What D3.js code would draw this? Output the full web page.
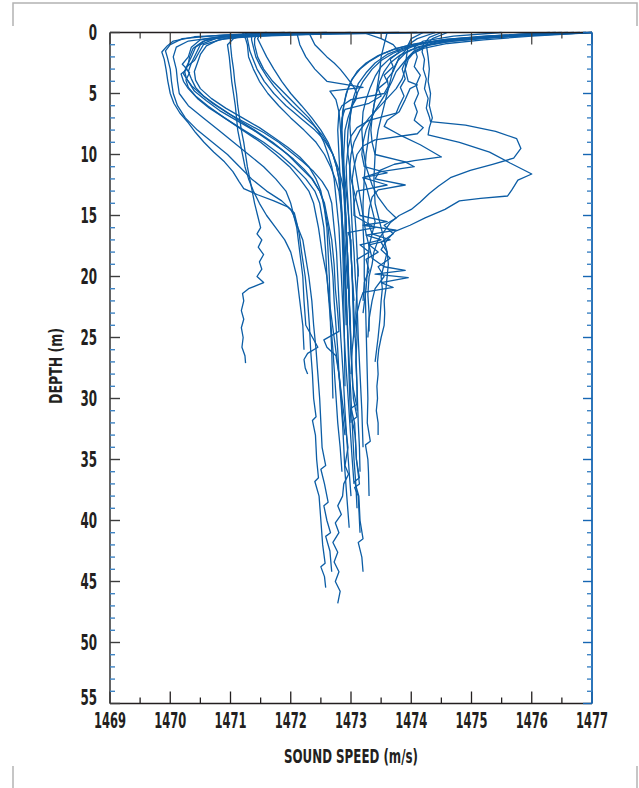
<!DOCTYPE html>
<html>
<head>
<meta charset="utf-8">
<script src="https://cdn.jsdelivr.net/npm/d3@7"></script>
<style>
  html, body { margin: 0; padding: 0; background: #fff; }
  svg { display: block; }
  .lbl { font-family: "Liberation Sans Narrow", "DejaVu Sans Condensed", "Liberation Sans", sans-serif; font-weight: bold; fill: #231f20; }
</style>
</head>
<body>
<svg id="chart" width="639" height="788"></svg>
<script>
// Axis ticks
const speedTicks = [1469, 1470, 1471, 1472, 1473, 1474, 1475, 1476, 1477];
const depthTicks = [0, 5, 10, 15, 20, 25, 30, 35, 40, 45, 50, 55];

// Sound speed casts: [depth (m), sound speed (m/s)]
// Outer cold-surface casts
const castL1 = [[0,1472.6],[0.15,1471.2],[0.35,1470.4],[0.7,1470.05],[1.1,1469.95],[1.6,1469.86],[2.2,1469.9],[3,1469.93],[4,1469.96],[5,1470.0],[5.8,1470.06],[6.6,1470.16],[7.4,1470.3],[8.2,1470.42],[9,1470.56],[9.8,1470.72],[10.6,1470.9],[11.4,1471.04],[12.2,1471.14],[12.8,1471.22],[13.3,1471.45],[13.8,1471.72],[14.3,1471.95],[14.8,1472.06],[15.6,1472.1],[16.5,1472.14],[18,1472.18],[20,1472.24],[22,1472.28],[24,1472.31],[26,1472.33],[28,1472.36],[30,1472.38],[31.5,1472.42],[31.8,1472.36],[33,1472.41],[35,1472.43],[36.5,1472.46],[36.8,1472.4],[38,1472.47],[40,1472.5],[42,1472.53],[43.5,1472.57],[43.8,1472.5],[44.6,1472.56],[45.5,1472.58]];
const castL2 = [[0,1471.9],[0.2,1470.9],[0.5,1470.2],[1,1470.0],[1.5,1469.92],[2,1469.95],[3,1470.0],[4,1470.02],[5,1470.05],[6,1470.12],[7,1470.25],[8,1470.45],[9,1470.7],[10,1470.95],[11,1471.15],[12,1471.35],[13,1471.6],[13.8,1471.85],[14.5,1472.0],[15,1472.05],[16,1472.12],[17,1472.2],[18.5,1472.25],[20,1472.3],[22,1472.35],[24,1472.38],[26,1472.42],[28,1472.45],[30,1472.48],[32,1472.5],[34,1472.52],[35.5,1472.58],[35.8,1472.5],[37,1472.56],[38.5,1472.62],[38.8,1472.55],[40,1472.6],[41,1472.66],[41.3,1472.58],[42.5,1472.65],[44.2,1472.68]];
const castL3 = [[0,1473.4],[0.15,1471.8],[0.35,1470.8],[0.7,1470.3],[1.2,1470.1],[2,1470.05],[3,1470.1],[4,1470.12],[5,1470.15],[6,1470.3],[7,1470.55],[8,1470.8],[9,1471.05],[10,1471.3],[11,1471.55],[12,1471.75],[13,1471.92],[14,1472.0],[15,1472.05],[16,1472.1],[18,1472.15],[20,1472.2],[22,1472.22],[24,1472.25],[25.8,1472.45],[26.3,1472.28],[26.8,1472.22],[27.5,1472.24],[28,1472.28]];

// Main cold-core bundle
const castA1 = [[0,1473.8],[0.12,1472.2],[0.3,1470.9],[0.6,1470.5],[1.2,1470.35],[2,1470.3],[2.6,1470.2],[3,1470.28],[3.4,1470.18],[4,1470.22],[4.6,1470.3],[5.4,1470.45],[6.2,1470.65],[7,1470.9],[8,1471.2],[9,1471.5],[10,1471.75],[11,1471.98],[12,1472.15],[13,1472.3],[14,1472.38],[15,1472.42],[16,1472.46],[18,1472.52],[20,1472.6],[22,1472.64],[25,1472.72],[28,1472.8],[30,1472.85],[32,1472.9],[34,1472.95],[35.5,1472.9],[36.2,1472.96],[37,1472.88],[38,1472.86],[38.8,1472.78],[39.5,1472.84],[40.2,1472.74],[41,1472.8],[41.8,1472.7],[42.6,1472.78],[43.4,1472.72],[44.2,1472.8],[45,1472.74],[45.8,1472.82],[46.8,1472.78]];
const castA2 = [[0,1474.4],[0.12,1472.6],[0.25,1471.4],[0.5,1470.75],[1,1470.5],[1.8,1470.42],[2.5,1470.35],[3.2,1470.3],[3.8,1470.35],[4.5,1470.42],[5.2,1470.55],[6,1470.78],[7,1471.08],[8,1471.4],[9,1471.7],[10,1471.95],[11,1472.15],[12,1472.35],[13,1472.48],[14,1472.55],[16,1472.62],[18,1472.66],[20,1472.7],[22,1472.72],[24,1472.75],[26,1472.78],[28,1472.8],[30,1472.83],[32,1472.86],[34,1472.88],[36,1472.9],[38,1472.93],[40.6,1472.97]];
const castA3 = [[0,1473.0],[0.2,1471.8],[0.5,1470.9],[1,1470.55],[1.6,1470.48],[2.3,1470.4],[2.9,1470.25],[3.3,1470.32],[3.9,1470.26],[4.5,1470.3],[5.2,1470.42],[6,1470.62],[7,1470.9],[8,1471.22],[9,1471.55],[10,1471.82],[11,1472.05],[12,1472.25],[13,1472.4],[14,1472.48],[16,1472.55],[18,1472.58],[20,1472.6],[23,1472.65],[26,1472.7],[29,1472.74],[32,1472.78],[34,1472.82],[36,1472.85]];
const castA4 = [[0,1472.0],[0.3,1471.0],[0.6,1470.6],[1.2,1470.42],[2,1470.35],[2.7,1470.28],[3.4,1470.22],[4,1470.3],[4.8,1470.4],[5.6,1470.6],[6.4,1470.82],[7.2,1471.1],[8,1471.38],[8.8,1471.62],[9.6,1471.85],[10.4,1472.05],[11.2,1472.22],[12,1472.36],[13,1472.48],[14,1472.56],[15.5,1472.62],[17,1472.68],[19,1472.72],[21,1472.74],[23,1472.78],[24.5,1472.8],[25.2,1472.55],[25.8,1472.6],[26.5,1472.75],[28,1472.8],[30,1472.84],[31.5,1472.86],[33,1472.9]];
const castA5 = [[0,1474.1],[0.15,1472.4],[0.35,1471.2],[0.6,1470.8],[1.1,1470.6],[1.8,1470.5],[2.5,1470.45],[3.2,1470.4],[3.9,1470.42],[4.6,1470.5],[5.4,1470.68],[6.2,1470.92],[7,1471.2],[7.8,1471.48],[8.6,1471.72],[9.4,1471.95],[10.2,1472.15],[11,1472.3],[12,1472.42],[13,1472.5],[14.5,1472.56],[16,1472.6],[18,1472.62],[20,1472.64],[22,1472.65],[24,1472.66],[26,1472.68],[28,1472.69],[30,1472.7]];
const castA6 = [[0,1471.6],[0.3,1470.95],[0.7,1470.55],[1.3,1470.38],[2,1470.32],[2.6,1470.3],[3.2,1470.24],[3.8,1470.27],[4.4,1470.36],[5,1470.5],[5.8,1470.7],[6.6,1470.95],[7.4,1471.25],[8.2,1471.55],[9,1471.8],[9.8,1472.0],[10.6,1472.2],[11.4,1472.38],[12.2,1472.52],[13,1472.62],[14,1472.68],[16,1472.72],[18,1472.76],[20,1472.78],[22,1472.8],[25,1472.83],[28,1472.87],[31,1472.9],[34,1472.94],[36,1472.97],[38,1473.0]];

// Casts with a slowly warming upper layer
const castB1 = [[0,1471.25],[0.5,1471.28],[1,1471.3],[1.5,1471.32],[2,1471.36],[2.5,1471.4],[3,1471.44],[3.5,1471.5],[4,1471.56],[4.5,1471.64],[5,1471.72],[5.5,1471.82],[6,1471.92],[6.5,1472.04],[7,1472.16],[7.5,1472.28],[8,1472.4],[8.5,1472.5],[9,1472.58],[9.5,1472.64],[10,1472.7],[11,1472.78],[12,1472.84],[13,1472.88],[14,1472.9],[16,1472.92],[18,1472.94],[20,1472.95],[22,1472.97],[24,1472.99],[26,1473.0],[28,1473.02],[30,1473.04],[31.5,1473.1],[31.8,1473.02],[33,1473.07],[35,1473.09],[36.5,1473.14],[36.8,1473.06],[38,1473.13],[40,1473.15],[41.5,1473.2],[41.8,1473.12],[43,1473.18],[44.2,1473.2]];
const castB2 = [[0,1471.35],[0.6,1471.35],[1.2,1471.38],[2,1471.42],[2.8,1471.5],[3.6,1471.6],[4.4,1471.72],[5.2,1471.86],[6,1472.02],[6.8,1472.2],[7.6,1472.38],[8.4,1472.52],[9.2,1472.62],[10,1472.7],[11,1472.76],[12,1472.8],[14,1472.84],[16,1472.86],[18,1472.88],[20,1472.9],[23,1472.93],[26,1472.96],[29,1472.99],[32,1473.02],[35,1473.05],[37,1473.08],[39,1473.1]];
const castB3 = [[0,1471.45],[0.5,1471.4],[1,1471.4],[2,1471.45],[3,1471.55],[4,1471.7],[5,1471.9],[6,1472.1],[7,1472.3],[8,1472.45],[9,1472.55],[10,1472.62],[11,1472.68],[12,1472.72],[14,1472.76],[16,1472.8],[18,1472.82],[20,1472.84],[23,1472.87],[26,1472.9],[29,1472.94],[32,1472.98],[35,1473.02],[37,1473.05]];
const castB4 = [[0,1471.2],[0.5,1471.25],[1,1471.28],[2,1471.3],[3,1471.38],[4,1471.48],[5,1471.62],[6,1471.8],[7,1472.0],[8,1472.22],[9,1472.42],[10,1472.56],[11,1472.66],[12,1472.74],[13,1472.8],[15,1472.85],[17,1472.88],[19,1472.9],[21,1472.92],[24,1472.94],[27,1472.96],[30,1472.98],[32,1473.0]];
const castB5 = [[0,1471.5],[0.5,1471.45],[1,1471.5],[2,1471.6],[3,1471.72],[4,1471.85],[5,1472.0],[6,1472.18],[7,1472.35],[8,1472.5],[9,1472.62],[10,1472.7],[11,1472.76],[12,1472.8],[14,1472.83],[16,1472.85],[19,1472.87],[22,1472.88],[25,1472.89],[29,1472.9]];

// Near-isovelocity casts
const castC1 = [[0,1471.0],[1,1471.0],[2,1471.02],[3,1471.05],[4,1471.07],[5,1471.1],[6,1471.12],[7,1471.15],[8,1471.18],[9,1471.22],[10,1471.25],[11,1471.28],[12,1471.32],[13,1471.36],[14,1471.4],[15,1471.45],[16,1471.5],[16.5,1471.44],[17,1471.52],[17.6,1471.46],[18.2,1471.55],[18.8,1471.48],[19.4,1471.52],[20,1471.44],[20.5,1471.55],[21,1471.3],[21.4,1471.2],[22,1471.22],[22.8,1471.18],[23.5,1471.22],[24.2,1471.18],[25,1471.21],[25.8,1471.19],[26.5,1471.24],[27.1,1471.25]];
const castC2 = [[0,1471.3],[0.5,1471.05],[1,1470.95],[2,1470.98],[3,1471.0],[4,1471.02],[5,1471.05],[6,1471.08],[7,1471.1],[8,1471.12],[9,1471.16],[10,1471.2],[11,1471.24],[12,1471.3],[13,1471.38],[14,1471.48],[15,1471.6],[16,1471.75],[17,1471.9],[18,1472.0],[19,1472.05],[20,1472.1],[22,1472.15],[24,1472.2],[26,1472.22]];

// Casts with a warm surface layer
const castD1 = [[0,1477.0],[0.2,1476.2],[0.45,1475.3],[0.7,1474.7],[1,1474.3],[1.4,1474.0],[1.9,1473.8],[2.5,1473.65],[3.2,1473.55],[4,1473.48],[5,1473.42],[6,1473.38],[7,1473.35],[8,1473.3],[9,1473.28],[10,1473.25],[12,1473.22],[14,1473.2],[16,1473.2],[18,1473.22],[20,1473.22],[22,1473.24],[24,1473.25],[26,1473.26],[28,1473.27],[30,1473.28],[32,1473.27],[33.5,1473.32],[33.8,1473.24],[35,1473.28],[36,1473.29],[38,1473.3]];
const castD2 = [[0,1476.6],[0.2,1475.8],[0.5,1474.9],[0.8,1474.4],[1.2,1474.1],[1.7,1473.9],[2.3,1473.78],[3,1473.7],[4,1473.65],[5,1473.6],[6,1473.55],[7,1473.5],[8,1473.45],[9,1473.42],[10,1473.4],[12,1473.38],[14,1473.4],[15,1473.45],[16,1473.5],[17,1473.55],[18,1473.6],[19,1473.62],[20,1473.6],[21,1473.58],[22,1473.55],[23,1473.56],[24,1473.55],[25,1473.5],[26,1473.46],[27,1473.44],[28,1473.45],[29,1473.43],[30,1473.44],[31,1473.42],[32,1473.45],[33,1473.45]];
const castD3 = [[0,1477.0],[0.15,1476.3],[0.35,1475.4],[0.6,1474.6],[0.9,1474.1],[1.3,1473.75],[1.8,1473.5],[2.4,1473.3],[3,1473.15],[3.8,1473.02],[4.6,1472.95],[5.5,1472.9],[6.5,1472.86],[8,1472.85],[10,1472.86],[12,1472.88],[14,1472.9],[16,1472.92],[18,1472.94],[20,1472.96],[23,1472.98],[26,1473.0],[29,1473.03],[30.5,1473.09],[30.8,1473.0],[32,1473.06],[35,1473.09],[37,1473.14],[37.3,1473.06],[38,1473.12],[41,1473.15]];
const castD4 = [[0,1476.8],[0.2,1475.9],[0.4,1475.1],[0.7,1474.4],[1,1474.0],[1.4,1473.7],[1.9,1473.45],[2.5,1473.25],[3.2,1473.1],[4,1473.0],[5,1472.92],[6,1472.88],[7,1472.86],[8,1472.84],[10,1472.85],[12,1472.9],[14,1472.94],[16,1472.98],[18,1473.0],[20,1473.02],[23,1473.05],[26,1473.08],[29,1473.1],[32,1473.12],[34,1473.14],[36,1473.15]];
const castD5 = [[0,1476.9],[0.25,1475.6],[0.5,1474.8],[0.8,1474.3],[1.2,1473.95],[1.7,1473.7],[2.3,1473.5],[3,1473.35],[4,1473.2],[5,1473.1],[6,1473.02],[7,1472.98],[8,1472.95],[9,1472.94],[10,1472.95],[11,1472.98],[12,1473.0],[13,1473.05],[14,1473.1],[15,1473.15],[15.5,1473.6],[15.8,1473.2],[16.2,1473.75],[16.6,1473.25],[17,1473.5],[17.4,1473.15],[18,1473.3],[18.6,1473.1],[19.5,1473.12],[21,1473.1],[23,1473.08],[25,1473.1],[27,1473.08],[29,1473.1],[31,1473.1]];
const castD6 = [[0,1476.5],[0.25,1475.4],[0.55,1474.6],[0.9,1474.15],[1.3,1473.85],[1.8,1473.6],[2.5,1473.4],[3.3,1473.25],[4.2,1473.12],[5.2,1473.05],[6.2,1473.0],[7.5,1472.98],[9,1473.0],[10.5,1473.05],[12,1473.1],[13.5,1473.15],[15,1473.2],[16.5,1473.25],[17.5,1473.3],[18.5,1473.35],[19.2,1473.55],[19.5,1473.9],[19.8,1473.4],[20.1,1473.95],[20.5,1473.5],[20.9,1473.7],[21.3,1473.2],[22,1473.15],[23,1473.1],[24.5,1473.05],[26,1473.02],[28,1473.0]];
const castD7 = [[0,1477.0],[0.3,1476.0],[0.6,1475.2],[0.9,1474.6],[1.3,1474.2],[1.8,1474.0],[2.4,1473.9],[3,1473.85],[3.8,1473.9],[4.5,1473.82],[5.2,1473.88],[6,1473.8],[6.6,1473.75],[7.2,1473.3],[7.8,1473.1],[8.5,1473.0],[9.5,1472.95],[11,1472.92],[12.5,1472.93],[14,1472.95],[16,1472.97],[18,1473.0],[20,1473.02],[22,1473.03],[25,1473.05]];
const castD8 = [[0,1476.3],[0.3,1475.3],[0.6,1474.7],[1,1474.3],[1.5,1474.05],[2,1473.95],[2.6,1473.85],[3.2,1473.75],[4,1473.68],[4.8,1473.6],[5.6,1473.5],[6.4,1473.4],[7.2,1473.32],[8,1473.25],[9,1473.2],[10,1473.18],[11,1473.22],[11.5,1473.6],[11.9,1473.2],[12.5,1473.25],[13.5,1473.3],[14.5,1473.35],[15.5,1473.4],[16.5,1473.35],[17,1473.65],[17.4,1473.3],[18,1473.45],[18.6,1473.25],[19.5,1473.3],[20.5,1473.22],[22,1473.2]];
const castD9 = [[0,1476.7],[0.2,1476.0],[0.45,1475.2],[0.75,1474.6],[1.1,1474.25],[1.6,1474.05],[2.2,1473.95],[3,1473.9],[3.8,1473.85],[4.6,1473.75],[5.4,1473.6],[6.2,1473.45],[7,1473.3],[8,1473.15],[9,1473.05],[10,1473.0],[11,1472.98],[12,1472.98],[14,1473.0],[16,1473.02],[18,1473.05],[20,1473.07],[22,1473.1],[25,1473.12],[28,1473.15],[31,1473.18],[34,1473.2]];
const castD10 = [[0,1476.4],[0.3,1475.2],[0.6,1474.5],[1,1474.1],[1.5,1473.85],[2.1,1473.65],[2.8,1473.5],[3.6,1473.4],[4.5,1473.32],[5.5,1473.25],[6.5,1473.2],[8,1473.18],[9.5,1473.2],[11,1473.25],[12.5,1473.35],[13.5,1473.45],[14.5,1473.6],[15.2,1473.75],[15.8,1473.55],[16.5,1473.7],[17.2,1473.5],[18,1473.6],[19,1473.55],[20,1473.5],[21,1473.52],[22,1473.5],[23.5,1473.48],[25,1473.45],[27,1473.4]];

// Casts with a warm intrusion below the mixed layer
const castE1 = [[0,1474.5],[0.4,1474.3],[1,1474.2],[1.6,1474.18],[2.2,1474.22],[3,1474.2],[3.8,1474.25],[4.6,1474.22],[5.4,1474.28],[6.2,1474.25],[6.9,1474.3],[7.3,1474.32],[7.6,1474.9],[8.1,1475.4],[8.7,1475.75],[9.5,1475.82],[10.3,1475.7],[10.8,1475.35],[11.3,1474.98],[11.9,1474.65],[12.6,1474.45],[13.2,1474.3],[13.9,1474.15],[14.5,1474.0],[15,1473.8],[15.6,1473.65],[16.3,1473.55],[17,1473.45],[18,1473.38],[19,1473.35],[20,1473.3],[21.5,1473.28],[23,1473.3],[24.5,1473.3]];
const castE2 = [[0,1474.6],[0.5,1474.35],[1,1474.25],[2,1474.28],[3,1474.3],[4,1474.28],[5,1474.32],[6,1474.3],[7,1474.35],[7.8,1474.3],[8.4,1474.28],[9,1474.8],[9.8,1475.3],[10.7,1475.64],[11.6,1476.0],[12.1,1475.77],[12.9,1475.67],[13.4,1475.6],[13.6,1475.15],[13.8,1474.8],[14.5,1474.56],[15.2,1474.23],[15.8,1473.98],[16.3,1473.73],[17,1473.6],[17.8,1473.5],[18.5,1473.65],[19.2,1473.45],[20,1473.55],[21,1473.4],[22,1473.35],[23.5,1473.3],[25,1473.28]];
const castE3 = [[0,1474.2],[0.5,1474.0],[1,1473.95],[2,1473.92],[3,1473.9],[4,1473.95],[4.3,1474.1],[4.6,1473.98],[5.5,1473.9],[6.5,1473.8],[7.2,1473.6],[7.7,1473.55],[8.5,1473.85],[9.2,1474.15],[10.2,1474.5],[10.5,1474.05],[10.8,1473.72],[11.3,1473.48],[12,1473.4],[12.5,1473.9],[12.9,1473.45],[13.5,1473.35],[14.5,1473.3],[15.5,1473.28],[16.5,1473.35],[17.5,1473.3],[19,1473.28],[21,1473.25],[23,1473.2]];

// Transitional casts
const castM1 = [[0,1472.3],[0.5,1472.35],[1,1472.4],[1.5,1472.5],[2,1472.6],[2.5,1472.72],[3,1472.82],[3.5,1472.9],[4,1472.98],[4.5,1473.05],[5,1473.1],[5.5,1473.08],[6,1473.02],[7,1472.95],[8,1472.9],[10,1472.88],[12,1472.88],[14,1472.9],[16,1472.92],[18,1472.94],[20,1472.95],[22,1472.97],[24,1472.98]];
const castM2 = [[0,1472.1],[1,1472.15],[2,1472.25],[3,1472.4],[4,1472.6],[4.5,1473.2],[4.8,1472.65],[5.5,1472.75],[6.5,1472.8],[7.5,1472.82],[9,1472.84],[11,1472.86],[13,1472.88],[15,1472.9],[17,1472.9],[19,1472.92],[21,1472.95]];
const castM3 = [[0,1473.6],[1,1473.55],[2,1473.5],[3,1473.48],[4,1473.45],[5,1473.42],[6,1473.38],[7,1473.35],[8,1473.33],[9,1473.35],[10,1473.4],[10.6,1473.9],[11,1474.05],[11.4,1473.5],[11.9,1473.2],[12.5,1473.6],[13,1473.1],[14,1473.05],[15,1473.05],[16,1473.4],[16.4,1472.95],[17,1473.0],[18,1473.0],[20,1473.02],[22,1473.05]];
const castN1 = [[0,1474.4],[0.5,1474.1],[1,1473.95],[1.5,1473.9],[2,1473.8],[2.6,1473.75],[3.2,1473.7],[3.8,1473.6],[4.4,1473.62],[5,1473.55],[5.5,1473.0],[6,1472.85],[6.5,1472.8],[8,1472.78],[10,1472.8],[12,1472.82],[15,1472.85],[18,1472.88],[21,1472.9],[24,1472.92]];
const castN2 = [[0,1473.2],[0.5,1473.5],[1,1473.7],[1.6,1473.8],[2.2,1473.65],[2.8,1473.7],[3.5,1473.55],[4,1473.6],[4.6,1473.45],[5.2,1473.5],[5.8,1473.3],[6.3,1472.9],[7,1472.85],[8,1472.84],[10,1472.87],[13,1472.9],[16,1472.92],[19,1472.95],[22,1472.97],[26,1473.0]];
const castN3 = [[0,1475.5],[0.3,1474.7],[0.7,1474.2],[1.2,1474.05],[2,1474.1],[2.8,1474.05],[3.5,1474.15],[4.3,1474.08],[5,1474.12],[5.8,1474.05],[6.5,1474.1],[7.2,1474.05],[7.8,1474.2],[8.3,1474.1],[8.8,1473.4],[9.3,1473.2],[10,1473.1],[11,1473.05],[12,1473.02],[14,1473.05],[16,1473.08],[18,1473.1],[20,1473.12]];

const casts = [castL1, castL2, castL3, castA1, castA2, castA3, castA4, castA5, castA6,
  castB1, castB2, castB3, castB4, castB5, castC1, castC2,
  castD1, castD2, castD3, castD4, castD5, castD6, castD7, castD8, castD9, castD10,
  castE1, castE2, castE3, castM1, castM2, castM3, castN1, castN2, castN3];

const svg = d3.select("#chart");
const plot = { left: 110, right: 592, top: 32.5, bottom: 703.5 };

const x = d3.scaleLinear().domain([1469, 1477]).range([plot.left, plot.right]);
const y = d3.scaleLinear().domain([0, 55]).range([plot.top, plot.bottom]);

// Page frame marks
const frame = svg.append("g").attr("stroke", "#b3b3b3").attr("stroke-width", 1.5).attr("fill", "none");
frame.append("path").attr("d", "M13,26 V3 H637 V26");
frame.append("path").attr("d", "M13,766 V788");
frame.append("path").attr("d", "M637,766 V788");

// Profiles
const line = d3.line().x(d => x(d[1])).y(d => y(d[0]));
svg.append("g")
  .attr("fill", "none")
  .attr("stroke", "#0c5da5")
  .attr("stroke-width", 1.3)
  .attr("stroke-linejoin", "round")
  .selectAll("path")
  .data(casts)
  .join("path")
  .attr("d", line);

// Axes
const axes = svg.append("g").attr("fill", "none");
const minorSpeed = d3.range(1469.5, 1477, 1);
const minorDepth = d3.range(0, 56, 1).filter(d => d % 5 !== 0);

// bottom
axes.append("line").attr("x1", plot.left).attr("x2", plot.right).attr("y1", plot.bottom).attr("y2", plot.bottom).attr("stroke", "#231f20").attr("stroke-width", 1.6);
axes.selectAll(".bt").data(speedTicks).join("line").attr("x1", d => x(d)).attr("x2", d => x(d)).attr("y1", plot.bottom).attr("y2", plot.bottom - 12).attr("stroke", "#231f20").attr("stroke-width", 1.3);
axes.selectAll(".bm").data(minorSpeed).join("line").attr("x1", d => x(d)).attr("x2", d => x(d)).attr("y1", plot.bottom).attr("y2", plot.bottom - 6).attr("stroke", "#231f20").attr("stroke-width", 1.3);
// top
axes.append("line").attr("x1", plot.left).attr("x2", plot.right).attr("y1", plot.top).attr("y2", plot.top).attr("stroke", "#231f20").attr("stroke-width", 1.6);
axes.selectAll(".tt").data(speedTicks).join("line").attr("x1", d => x(d)).attr("x2", d => x(d)).attr("y1", plot.top).attr("y2", plot.top + 12).attr("stroke", "#3a3a3a").attr("stroke-width", 1.2);
axes.selectAll(".tm").data(minorSpeed).join("line").attr("x1", d => x(d)).attr("x2", d => x(d)).attr("y1", plot.top).attr("y2", plot.top + 6).attr("stroke", "#3a3a3a").attr("stroke-width", 1.2);
// left
axes.append("line").attr("x1", plot.left).attr("x2", plot.left).attr("y1", plot.top).attr("y2", plot.bottom).attr("stroke", "#3d3d3d").attr("stroke-width", 1.6);
axes.selectAll(".lt").data(depthTicks).join("line").attr("x1", plot.left).attr("x2", plot.left + 10).attr("y1", d => y(d)).attr("y2", d => y(d)).attr("stroke", "#3d3d3d").attr("stroke-width", 1.4);
axes.selectAll(".lm").data(minorDepth).join("line").attr("x1", plot.left).attr("x2", plot.left + 5).attr("y1", d => y(d)).attr("y2", d => y(d)).attr("stroke", "#3f84c4").attr("stroke-width", 1.4);
// right
axes.append("line").attr("x1", plot.right).attr("x2", plot.right).attr("y1", plot.top).attr("y2", plot.bottom).attr("stroke", "#1666b3").attr("stroke-width", 1.8);
axes.selectAll(".rt").data(depthTicks).join("line").attr("x1", plot.right).attr("x2", plot.right - 9).attr("y1", d => y(d)).attr("y2", d => y(d)).attr("stroke", "#1666b3").attr("stroke-width", 1.4);
axes.selectAll(".rm").data(minorDepth).join("line").attr("x1", plot.right).attr("x2", plot.right - 5).attr("y1", d => y(d)).attr("y2", d => y(d)).attr("stroke", "#3f84c4").attr("stroke-width", 1.4);

// Tick labels
svg.append("g").selectAll("text").data(speedTicks).join("text")
  .attr("class", "lbl")
  .attr("x", d => x(d)).attr("y", 728)
  .attr("text-anchor", "middle")
  .attr("font-size", 21)
  .attr("textLength", 32).attr("lengthAdjust", "spacingAndGlyphs")
  .text(d => d);

// the deepest label sits a little higher to clear the speed labels
svg.append("g").selectAll("text").data(depthTicks).join("text")
  .attr("class", "lbl")
  .attr("x", 97).attr("y", d => d === 55 ? y(d) + 1.5 : y(d) + 7.5)
  .attr("text-anchor", "end")
  .attr("font-size", 21)
  .attr("textLength", d => String(d).length * 8.3).attr("lengthAdjust", "spacingAndGlyphs")
  .text(d => d);

// Axis titles
svg.append("text").attr("class", "lbl")
  .attr("x", x(1473)).attr("y", 763)
  .attr("text-anchor", "middle").attr("font-size", 20)
  .attr("textLength", 134).attr("lengthAdjust", "spacingAndGlyphs")
  .text("SOUND SPEED (m/s)");

svg.append("text").attr("class", "lbl")
  .attr("transform", "translate(62,366) rotate(-90)")
  .attr("text-anchor", "middle").attr("font-size", 17)
  .attr("textLength", 76).attr("lengthAdjust", "spacingAndGlyphs")
  .text("DEPTH (m)");
</script>
</body>
</html>
